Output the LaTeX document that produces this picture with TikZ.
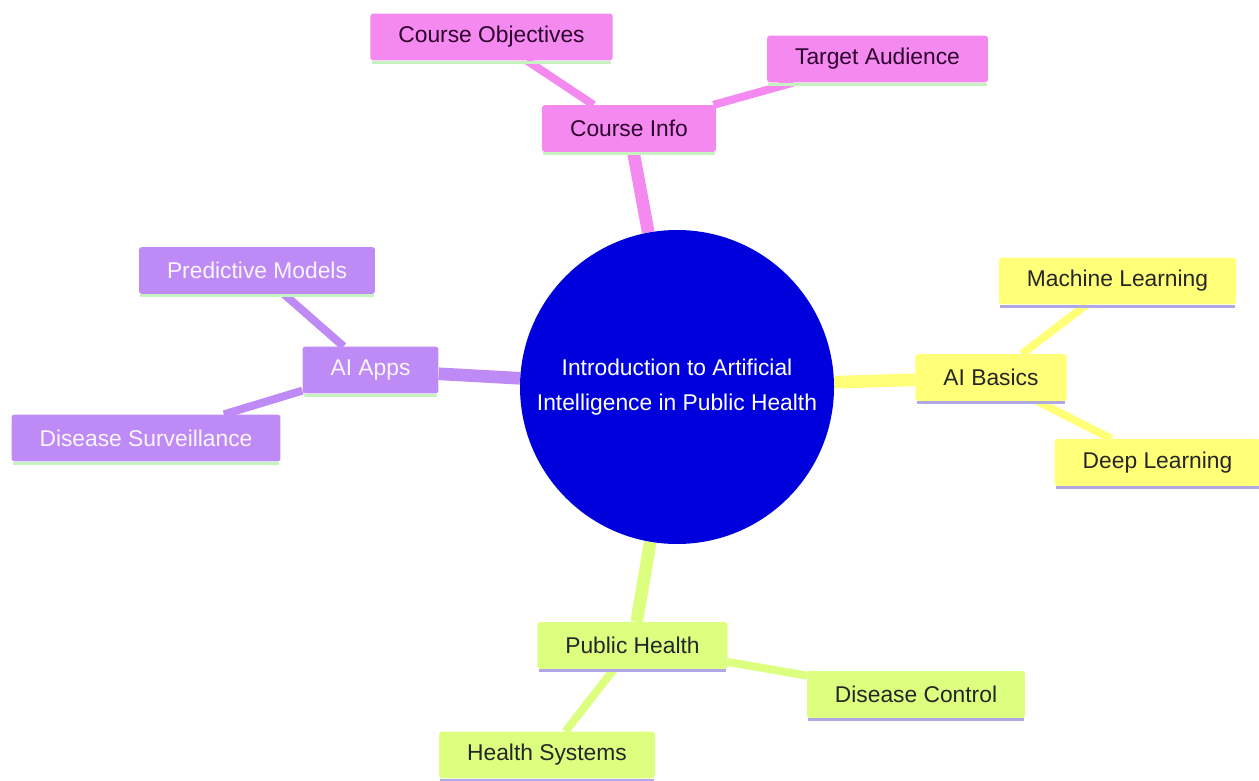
\documentclass[tikz,border=0pt]{standalone}
\usepackage{fontspec}
\setmainfont{Liberation Sans}
\usetikzlibrary{backgrounds,calc}
\definecolor{pinkfill}{HTML}{F48AF0}
\definecolor{purplefill}{HTML}{BE8AF5}
\definecolor{yellowfill}{HTML}{FFFF78}
\definecolor{greenfill}{HTML}{DCFF80}
\definecolor{rootblue}{HTML}{0000DC}
\definecolor{mintline}{HTML}{C6F2C0}
\definecolor{lavline}{HTML}{B0A8E6}
\begin{document}
\begin{tikzpicture}[
	x=0.75pt,y=-0.75pt,
	every node/.style={font=\fontsize{17.1}{26}\selectfont},
	leaf/.style={rectangle,rounded corners=2pt,inner xsep=21pt,inner ysep=0pt,minimum height=35pt},
	pinkbox/.style={leaf,fill=pinkfill,text=black!60!violet!90!black},
	purplebox/.style={leaf,fill=purplefill,text=white!92!purplefill},
	yellowbox/.style={leaf,fill=yellowfill,text=black!85},
	greenbox/.style={leaf,fill=greenfill,text=black!85},
	trunk/.style={line width=9.5pt},
	twig/.style={line width=6pt}
]
\useasboundingbox (0,0) rectangle (1259,781);
%\draw[step=100,black!10] (0,0) grid (1259,781);
\node[circle,fill=rootblue,text=white,minimum size=235.5pt,align=center] (root) at (677,387) {Introduction to Artificial\\Intelligence in Public Health};
% course info
\node[pinkbox] (cinfo) at (629,128.5) {Course Info};
\node[pinkbox] (cobj) at (491.5,37) {Course Objectives};
\node[pinkbox] (taud) at (877.5,59) {Target Audience};
% ai apps
\node[purplebox] (aiapps) at (370.5,370) {AI Apps};
\node[purplebox] (pmod) at (257,270.5) {Predictive Models};
\node[purplebox] (dsurv) at (146,438) {Disease Surveillance};
% ai basics
\node[yellowbox] (aibasics) at (991,377.5) {AI Basics};
\node[yellowbox] (mlearn) at (1117.5,281) {Machine Learning};
\node[yellowbox] (dlearn) at (1157.5,462.5) {Deep Learning};
% public health
\node[greenbox] (phealth) at (632.5,645.5) {Public Health};
\node[greenbox] (dcontrol) at (916,694.5) {Disease Control};
\node[greenbox] (hsys) at (547,755) {Health Systems};
\foreach \n in {cinfo,cobj,taud,aiapps,pmod,dsurv}
	\draw[mintline,line width=2.2pt] ($(\n.south west)+(1.5,1.5)$)--($(\n.south east)+(-1.5,1.5)$);
\foreach \n in {aibasics,mlearn,dlearn,phealth,dcontrol,hsys}
	\draw[lavline,line width=2.2pt] ($(\n.south west)+(1.5,1.5)$)--($(\n.south east)+(-1.5,1.5)$);
\begin{pgfonlayer}{background}
\draw[trunk,pinkfill] (root)--(cinfo);
\draw[twig,pinkfill] (cinfo)--(cobj) (cinfo)--(taud);
\draw[trunk,purplefill] (root)--(aiapps);
\draw[twig,purplefill] (aiapps)--(pmod) (aiapps)--(dsurv);
\draw[trunk,yellowfill] (root)--(aibasics);
\draw[twig,yellowfill] (aibasics)--(mlearn) (aibasics)--(dlearn);
\draw[trunk,greenfill] (root)--(phealth);
\draw[twig,greenfill] (phealth)--(dcontrol) (phealth)--(hsys);
\end{pgfonlayer}
\end{tikzpicture}
\end{document}
